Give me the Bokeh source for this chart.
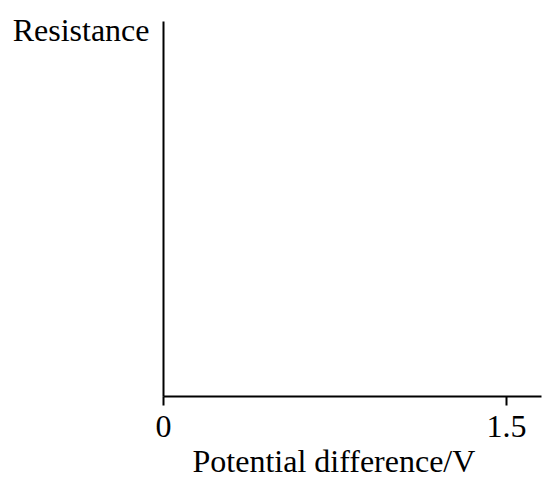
from bokeh.plotting import figure
from bokeh.models import Range1d, FixedTicker, Title
from bokeh.embed import file_html
from bokeh.resources import INLINE

x_ticks = [0, 1.5]
x_tick_labels = {0: "0", 1.5: "1.5"}
x_label = "Potential difference/V"
y_label = "Resistance"
x_max = 1.653
y_max = 1.0

FONT = "Liberation Serif"

p = figure(width=542, height=480, output_backend="svg", toolbar_location=None,
           x_range=Range1d(0, x_max), y_range=Range1d(0, y_max),
           min_border_left=163, min_border_right=1, min_border_top=21, min_border_bottom=84)
p.outline_line_color = None
p.grid.visible = False
p.background_fill_color = "white"
p.border_fill_color = "white"

xa = p.xaxis[0]
xa.ticker = FixedTicker(ticks=x_ticks)
xa.major_label_overrides = x_tick_labels
xa.minor_tick_line_color = None
xa.axis_line_width = 2
xa.axis_line_color = "black"
xa.major_tick_line_width = 2
xa.major_tick_line_color = "black"
xa.major_tick_out = 9
xa.major_tick_in = 0
xa.major_label_text_font = FONT
xa.major_label_text_font_size = "32px"
xa.major_label_text_color = "black"
xa.major_label_standoff = 10

xtitle = Title(text=x_label, align="left", offset=29, standoff=2,
               text_font=FONT, text_font_size="32px", text_font_style="normal",
               text_color="black")
p.add_layout(xtitle, "below")

ya = p.yaxis[0]
ya.ticker = FixedTicker(ticks=[])
ya.minor_tick_line_color = None
ya.major_tick_line_color = None
ya.major_label_text_font_size = "0px"
ya.axis_line_width = 2
ya.axis_line_color = "black"
ya.axis_label = "\n" + y_label
ya.axis_label_text_font = FONT
ya.axis_label_text_font_size = "32px"
ya.axis_label_text_font_style = "normal"
ya.axis_label_text_color = "black"
ya.axis_label_text_line_height = 0.45
ya.axis_label_orientation = "horizontal"
ya.axis_label_standoff = 14
ya.axis_label_align = "end"

open("out.html", "w").write(file_html(p, INLINE))
